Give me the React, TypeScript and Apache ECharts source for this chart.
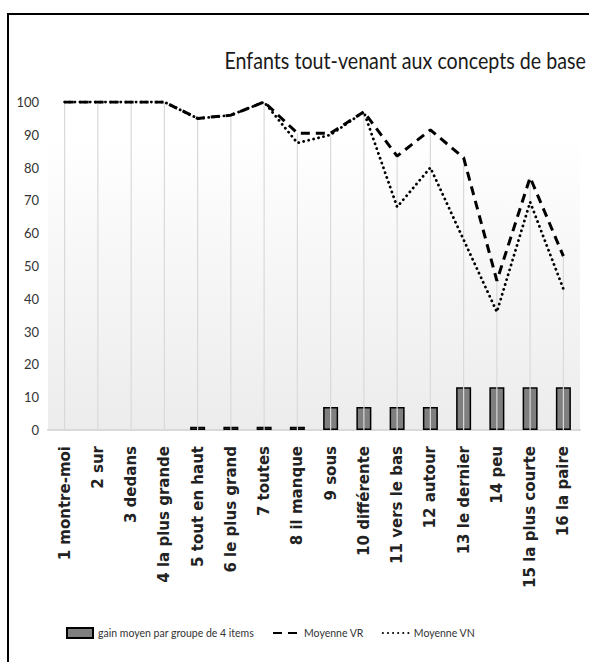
import React, { useEffect, useRef } from "react";
import * as echarts from "echarts";

const categories = [
  "1 montre-moi",
  "2 sur",
  "3 dedans",
  "4 la plus grande",
  "5 tout en haut",
  "6 le plus grand",
  "7 toutes",
  "8 il manque",
  "9 sous",
  "10 différente",
  "11 vers le bas",
  "12 autour",
  "13 le dernier",
  "14 peu",
  "15 la plus courte",
  "16 la paire",
];
const gain = [0, 0, 0, 0, 1, 1, 1, 1, 7, 7, 7, 7, 13, 13, 13, 13];
const moyenneVR = [100, 100, 100, 100, 95, 96, 100, 90.5, 90.5, 97, 83.5, 91.5, 83, 45.5, 77, 53];
const moyenneVN = [100, 100, 100, 100, 95, 96, 100, 87.5, 90, 97, 68, 80, 58, 36, 69.5, 43];
const yTicks = { min: 0, max: 100, interval: 10 };

const titleText = "Enfants tout-venant aux concepts de base";
const seriesNames = ["gain moyen par groupe de 4 items", "Moyenne VR", "Moyenne VN"];

const NARROW = "Lato, 'DejaVu Sans Condensed', sans-serif";

export default function App() {
  const ref = useRef<HTMLDivElement>(null);
  useEffect(() => {
    if (!ref.current) return;
    const chart = echarts.init(ref.current, undefined, { renderer: "svg" });
    const dropData = categories.map((_, i) => [i, moyenneVR[i], moyenneVN[i]]);
    const hiddenSymbol = { color: "rgba(0,0,0,0)", borderWidth: 0, opacity: 0 };
    chart.setOption({
      animation: false,
      backgroundColor: "#ffffff",
      graphic: [
        {
          type: "rect",
          shape: { x: 8, y: 14, width: 700, height: 700 },
          style: { fill: "none", stroke: "#000", lineWidth: 2 },
          silent: true,
          z: 100,
        },
        {
          type: "text",
          x: 586,
          y: 60,
          scaleX: 0.82,
          silent: true,
          style: {
            text: titleText,
            align: "right",
            verticalAlign: "middle",
            fontFamily: NARROW,
            fontSize: 24,
            fill: "#1a1a1a",
          },
        },
      ],
      legend: {
        data: [
          { name: seriesNames[0], icon: "rect" },
          { name: seriesNames[1], itemStyle: hiddenSymbol },
          { name: seriesNames[2], itemStyle: hiddenSymbol },
        ],
        top: 627,
        left: 66,
        padding: 0,
        itemWidth: 26,
        itemHeight: 10,
        itemGap: 18,
        textStyle: { fontFamily: NARROW, fontSize: 10.5, color: "#333" },
      },
      grid: {
        left: 48,
        right: 9,
        top: 102,
        bottom: 232,
        show: true,
        borderWidth: 0,
        backgroundColor: new echarts.graphic.LinearGradient(0, 0, 0, 1, [
          { offset: 0, color: "#ffffff" },
          { offset: 0.1, color: "#ffffff" },
          { offset: 1, color: "#ececec" },
        ]),
      },
      xAxis: {
        type: "category",
        data: categories,
        boundaryGap: true,
        axisLine: { show: true, lineStyle: { color: "#d9d9d9", width: 2 } },
        axisTick: { show: false },
        splitLine: { show: false },
        axisLabel: {
          interval: 0,
          rotate: 90,
          margin: 16,
          fontFamily: "'DejaVu Sans', Verdana, sans-serif",
          fontWeight: "bold",
          fontSize: 15,
          color: "#222",
        },
      },
      yAxis: {
        type: "value",
        min: yTicks.min,
        max: yTicks.max,
        interval: yTicks.interval,
        axisLine: { show: false },
        axisTick: { show: false },
        splitLine: { show: false },
        axisLabel: { margin: 9, fontFamily: NARROW, fontSize: 13, color: "#333" },
      },
      series: [
        {
          name: seriesNames[0],
          type: "bar",
          data: gain.map((v) => (v === 0 ? null : v)),
          barWidth: 15,
          z: 2,
          itemStyle: { color: "#7f7f7f", borderColor: "#000", borderWidth: 1.5 },
        },
        {
          name: "drop",
          type: "custom",
          z: 3,
          silent: true,
          data: dropData,
          encode: { x: 0, y: [1, 2] },
          renderItem: (params: any, api: any) => {
            const i = api.value(0);
            const top = Math.max(api.value(1), api.value(2));
            const p1 = api.coord([i, top]);
            const p0 = api.coord([i, 0]);
            return {
              type: "line",
              shape: { x1: p1[0], y1: p1[1], x2: p0[0], y2: p0[1] },
              style: { stroke: "#d9d9d9", lineWidth: 1.2 },
            };
          },
        },
        {
          name: seriesNames[1],
          type: "line",
          data: moyenneVR,
          symbol: "none",
          z: 5,
          lineStyle: { color: "#000", width: 3, type: [9, 6], cap: "butt" },
          itemStyle: { color: "#000" },
        },
        {
          name: seriesNames[2],
          type: "line",
          data: moyenneVN,
          symbol: "none",
          z: 4,
          lineStyle: { color: "#000", width: 2.8, type: [0.1, 5], cap: "round" },
          itemStyle: { color: "#000" },
        },
      ],
    });
    return () => chart.dispose();
  }, []);
  return (
    <div
      ref={ref}
      style={{ position: "fixed", left: 0, top: 0, width: 589, height: 662 }}
    />
  );
}
